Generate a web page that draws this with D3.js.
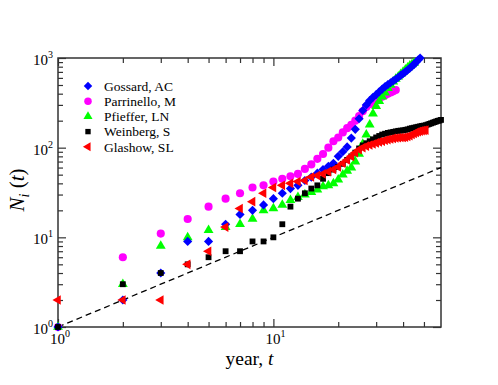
<!DOCTYPE html>
<html>
<head>
<meta charset="utf-8">
<script src="https://d3js.org/d3.v7.min.js"></script>
<style>
  body { margin: 0; background: #fff; }
  text { font-family: "Liberation Serif", "Times New Roman", serif; fill: #000; }
</style>
</head>
<body>
<div id="vis"></div>
<script>
(function(){
  // cumulative counts N_i(t), one value per year t = 1, 2, 3, ...
  var gossard = [1,2,4,9,9,14,18,20,23,27,31,35,38,43,47,52,57,62,67,80,90,102,128,160,210,260,300,335,365,390,420,450,480,505,530,555,580,610,640,670,700,735,770,810,850,900,950,1000];
  var parrinello = [1,6,11,16,22,27,31,36,38,42,45,48,51,58,65,75,85,100,118,130,148,165,180,200,225,255,285,305,325,340,355,370,385,400,412,425,440];
  var pfieffer = [1,3,8,10,12,13,14,16,20,21,23,26,28,30,32,34,37,38,40,44,50,55,60,70,85,110,140,180,240,290,330,370,410,460,500,545,585,620,660,700,740,780,820,850,880];
  var weinberg = [1,3,4,5,6,7,7,9,9,10,14,22,27,31,35,38,45,52,57,61,66,73,80,88,98,106,112,118,124,130,135,140,143,146,148,150,152,154,155,156,158,160,163,165,167,169,171,173,175,176,178,181,184,187,190,193,196,199,201,204];
  var glashow = [2,2,2,5,7,13,21,25,31,36,38,40,42,43,47,49,51,54,57,61,67,73,80,88,95,100,104,107,110,113,116,118,121,123,125,127,128,129,130,130,131,133,136,140,144,148,151,153,155,156,157];

  var names = ["Gossard, AC", "Parrinello, M", "Pfieffer, LN", "Weinberg, S", "Glashow, SL"];
  var xMajor = [1, 10];
  var xMinor = [2,3,4,5,6,7,8,9,20,30,40,50];
  var yMajor = [1, 10, 100, 1000];
  var yMinor = [2,3,4,5,6,7,8,9,20,30,40,50,60,70,80,90,200,300,400,500,600,700,800,900];
  var refLine = [1, 60];   // N = t

  var width = 498;
  var height = 385;
  var margin = {top: 58, left: 58, bottom: 58, right: 57};

  var svg = d3.select("#vis")
    .append("svg")
    .attr("width", width)
    .attr("height", height);

  var x_scale = d3.scaleLog().domain([1, 60]).range([margin.left, width - margin.right]);
  var y_scale = d3.scaleLog().domain([1, 1000]).range([height - margin.bottom, margin.top]);

  var x0 = x_scale.range()[0], x1 = x_scale.range()[1];
  var y0 = y_scale.range()[0], y1 = y_scale.range()[1];

  // ticks, pointing inward on all four sides
  function ticks(axis, vals, len, tr) {
    var g = svg.append("g")
      .attr("transform", tr)
      .call(axis.tickValues(vals).tickSize(len).tickSizeOuter(0).tickFormat(""));
    g.select(".domain").remove();
    g.selectAll("line").attr("stroke", "#333").attr("stroke-width", 1.2);
  }
  ticks(d3.axisBottom(x_scale), xMajor, -8, "translate(0," + y0 + ")");
  ticks(d3.axisBottom(x_scale), xMinor, -5, "translate(0," + y0 + ")");
  ticks(d3.axisTop(x_scale), xMajor, -8, "translate(0," + y1 + ")");
  ticks(d3.axisTop(x_scale), xMinor, -5, "translate(0," + y1 + ")");
  ticks(d3.axisLeft(y_scale), yMajor, -8, "translate(" + x0 + ",0)");
  ticks(d3.axisLeft(y_scale), yMinor, -5, "translate(" + x0 + ",0)");
  ticks(d3.axisRight(y_scale), yMajor, -8, "translate(" + x1 + ",0)");
  ticks(d3.axisRight(y_scale), yMinor, -5, "translate(" + x1 + ",0)");

  svg.append("rect")
    .attr("x", x0).attr("y", y1)
    .attr("width", x1 - x0).attr("height", y0 - y1)
    .attr("fill", "none").attr("stroke", "#333").attr("stroke-width", 1.5);

  // tick labels 10^k
  function power(sel, k) {
    sel.append("tspan").text("10");
    sel.append("tspan").attr("font-size", "10px").attr("dy", "-7").text(k);
  }
  yMajor.forEach(function(v, i) {
    var t = svg.append("text")
      .attr("x", x0 - 5).attr("y", y_scale(v) + 7)
      .attr("text-anchor", "end").attr("font-size", "15px");
    power(t, i);
  });
  xMajor.forEach(function(v, i) {
    var t = svg.append("text")
      .attr("x", x_scale(v) + 2).attr("y", y0 + 17)
      .attr("text-anchor", "middle").attr("font-size", "15px");
    power(t, i);
  });

  // axis labels
  svg.append("text")
    .attr("x", (x0 + x1) / 2).attr("y", 365)
    .attr("text-anchor", "middle").attr("font-size", "19.5px")
    .html('year, <tspan font-style="italic">t</tspan>');

  var yl = svg.append("text")
    .attr("text-anchor", "middle").attr("font-size", "21px")
    .attr("transform", "translate(24,190) rotate(-90)");
  yl.append("tspan").attr("font-style", "italic").text("N");
  yl.append("tspan").attr("font-style", "italic").attr("font-size", "14px").attr("dy", 5).text("i");
  yl.append("tspan").attr("dy", -5).text(" (");
  yl.append("tspan").attr("font-style", "italic").text("t");
  yl.append("tspan").text(")");

  // reference line N = t
  svg.append("line")
    .attr("x1", x_scale(refLine[0])).attr("y1", y_scale(refLine[0]))
    .attr("x2", x_scale(refLine[1])).attr("y2", y_scale(refLine[1]))
    .attr("stroke", "#000").attr("stroke-width", 1.3)
    .attr("stroke-dasharray", "6,4");

  var series = [
    {name: names[0], data: gossard, color: "#0000ff", type: d3.symbolSquare, size: 42, rot: 45},
    {name: names[1], data: parrinello, color: "#ff00ff", type: d3.symbolCircle, size: 52, rot: 0},
    {name: names[2], data: pfieffer, color: "#00ff00", type: d3.symbolTriangle, size: 42, rot: 0},
    {name: names[3], data: weinberg, color: "#000000", type: d3.symbolSquare, size: 34, rot: 0},
    {name: names[4], data: glashow, color: "#ff0000", type: d3.symbolTriangle, size: 40, rot: -90}
  ];

  // drawing order so that overlaps look like the original
  var order = [1, 2, 0, 3, 4];
  order.forEach(function(k) {
    var s = series[k];
    svg.append("g").selectAll("path")
      .data(s.data)
      .enter()
      .append("path")
      .attr("d", d3.symbol().type(s.type).size(s.size))
      .attr("fill", s.color)
      .attr("transform", function(d, i) {
        return "translate(" + x_scale(i + 1) + "," + y_scale(d) + ") rotate(" + s.rot + ")";
      });
  });

  // legend
  var legend = svg.append("g");
  series.forEach(function(s, i) {
    var ly = 86 + i * 15.2;
    legend.append("path")
      .attr("d", d3.symbol().type(s.type).size(s.size * 0.85))
      .attr("fill", s.color)
      .attr("transform", "translate(88," + ly + ") rotate(" + s.rot + ")");
    legend.append("text")
      .attr("x", 104).attr("y", ly)
      .attr("dy", "0.35em")
      .attr("font-size", "13.5px")
      .text(s.name);
  });
})();
</script>
</body>
</html>
